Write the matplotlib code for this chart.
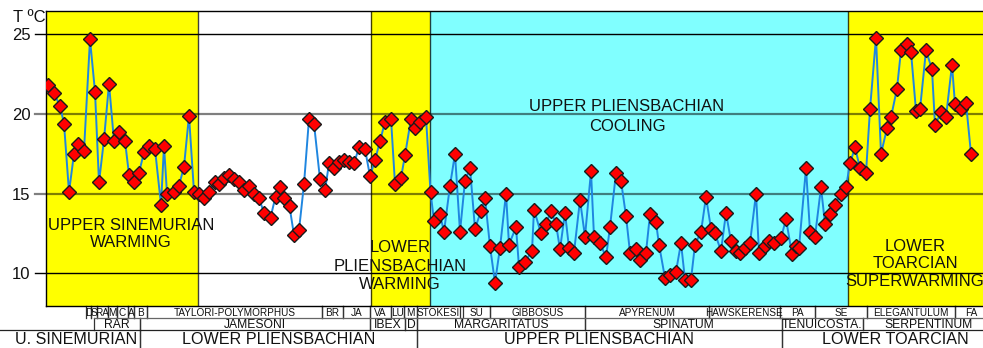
import matplotlib
matplotlib.use("Agg")
import matplotlib.pyplot as plt
from matplotlib.transforms import blended_transform_factory
from matplotlib.patches import Rectangle

plt.rcParams["font.family"] = ["Liberation Sans", "DejaVu Sans"]

# Stratigraphic position of each sample (arbitrary section units) and its temperature (deg C)
position = [
    2, 8, 14, 18, 23, 28, 32, 38, 44, 49, 53, 58, 63, 68, 73, 79, 83, 88, 93, 98,
    103, 109, 115, 118, 121, 128, 133, 138, 143, 148,
    153, 158, 163, 168.5, 173, 178, 183, 188, 193, 198, 203, 208, 213, 218, 224.5,
    229.5, 233.5, 238, 243.5, 248, 253, 258, 263, 268, 274, 279, 283, 288, 293, 298,
    303, 308, 313, 319,
    324, 329, 334, 339, 345, 349, 355, 359, 365, 369, 374, 380, 384.5,
    388, 394, 398, 404, 409, 414, 419, 424, 429, 435, 439, 444, 449, 454, 460, 463,
    470, 473, 479, 486, 488, 495, 500, 505, 510, 514, 519, 523, 528, 534, 539, 545,
    548, 554, 560, 564, 570, 575, 580, 584, 590, 594, 600, 604, 610, 613, 619, 624,
    630, 635, 639, 645, 649, 655, 660, 665, 669, 675, 680, 685, 690, 694, 699, 704,
    710, 713, 719, 723, 728, 735, 740, 746, 750, 753, 760, 764, 769, 775, 779, 784,
    789, 795, 800,
    804, 809, 814, 820, 824, 830, 835, 841, 845, 851, 855, 861, 865, 870, 874, 880,
    886, 889, 895, 900, 906, 909, 915, 920, 925,
]
temperature = [
    21.8, 21.3, 20.5, 19.4, 15.1, 17.5, 18.1, 17.7, 24.7, 21.4, 15.7, 18.4, 21.9, 18.3,
    18.9, 18.3, 16.2, 15.7, 16.3, 17.6, 18.0, 17.8, 14.3, 18.0, 15.0, 15.1, 15.5, 16.7,
    19.9, 15.1,
    15.0, 14.7, 15.1, 15.7, 15.6, 16.0, 16.2, 15.9, 15.7, 15.2, 15.5, 15.0, 14.7, 13.8,
    13.5, 14.8, 15.4, 14.7, 14.2, 12.4, 12.7, 15.6, 19.7, 19.4, 15.9, 15.2, 16.9, 16.6,
    17.0, 17.1, 17.0, 16.9, 17.9, 17.8,
    16.1, 17.1, 18.3, 19.5, 19.7, 15.6, 16.0, 17.4, 19.7, 19.1, 19.5, 19.8, 15.1,
    13.3, 13.7, 12.6, 15.5, 17.5, 12.6, 15.8, 16.6, 12.8, 13.9, 14.7, 11.7, 9.4, 11.6,
    15.0, 11.8, 12.9, 10.4, 10.7, 11.4, 14.0, 12.5, 13.1, 13.9, 13.1, 11.5, 13.8, 11.6,
    11.3, 14.6, 12.3, 16.4, 12.3, 11.9, 11.0, 12.9, 16.3, 15.8, 13.6, 11.3, 11.5, 10.8,
    11.3, 13.7, 13.2, 11.8, 9.7, 9.9, 10.1, 11.9, 9.6, 9.6, 11.8, 12.6, 14.8, 12.8,
    12.5, 11.4, 13.8, 12.0, 11.4, 11.3, 11.6, 11.9, 15.0, 11.3, 11.7, 12.0, 11.9, 12.2,
    13.4, 11.2, 11.7, 11.6, 16.6, 12.6, 12.3, 15.4, 13.1, 13.7, 14.3, 15.0, 15.4,
    16.9, 17.9, 16.6, 16.3, 20.3, 24.8, 17.5, 19.1, 19.8, 21.6, 24.0, 24.4, 23.9, 20.2,
    20.3, 24.0, 22.8, 19.3, 20.1, 19.8, 23.1, 20.6, 20.3, 20.7, 17.5,
]

# Climatic intervals shaded behind the curve
interval_edges = [0, 152, 325, 384, 802, 937]
interval_colors = ["#ffff00", "#ffffff", "#ffff00", "#80ffff", "#ffff00"]
interval_labels = [
    "UPPER SINEMURIAN\nWARMING",
    "LOWER\nPLIENSBACHIAN\nWARMING",
    "UPPER PLIENSBACHIAN\nCOOLING",
    "LOWER\nTOARCIAN\nSUPERWARMING",
]
label_x = [85, 354, 581, 869]
label_t = [12.45, 10.45, 19.85, 10.6]
label_spacing = [1.12, 1.27, 1.38, 1.2]

temperature_ticks = [10, 15, 20, 25]
tick_alpha = [1.0, 0.5, 0.5, 1.0]

# Biostratigraphy: (left edge, right edge, name)
subzones = [
    (40, 45, "D"), (45, 51, "S"), (51, 62, "RA"), (62, 71, "M"), (71, 82, "C"),
    (82, 88, "A"), (88, 101, "B"),
    (101, 276, "TAYLORI-POLYMORPHUS"), (276, 297, "BR"), (297, 324, "JA"),
    (324, 345, "VA"), (345, 358, "LU"), (358, 371, "M"), (371, 414, "STOKESI"),
    (417, 444, "SU"), (444, 539, "GIBBOSUS"), (539, 663, "APYRENUM"),
    (663, 734, "HAWSKERENSE"), (734, 769, "PA"), (769, 821, "SE"),
    (821, 909, "ELEGANTULUM"), (909, 941, "FA"),
]
zones = [
    (48, 94, "RAR"), (94, 324, "JAMESONI"), (324, 359, "IBEX"), (359, 371, "D"),
    (371, 539, "MARGARITATUS"), (539, 736, "SPINATUM"), (736, 817, "TENUICOSTA."),
    (817, 949, "SERPENTINUM"),
]
stages = [
    (-34, 94, "U. SINEMURIAN"), (94, 371, "LOWER PLIENSBACHIAN"),
    (371, 736, "UPPER PLIENSBACHIAN"), (736, 962, "LOWER TOARCIAN"),
]

W, H = 983, 348
fig = plt.figure(figsize=(W / 100, H / 100), dpi=100)
ax = fig.add_axes([46 / W, (H - 305.7) / H, 1 - 46 / W, (305.7 - 10.7) / H])
ax.set_xlim(0, 937)
ax.set_ylim(7.96, 26.49)

for left, right, color in zip(interval_edges[:-1], interval_edges[1:], interval_colors):
    ax.add_patch(Rectangle((left, 7.96), right - left, 26.49 - 7.96,
                           facecolor=color, edgecolor="none", zorder=0))
for edge in interval_edges[1:-1]:
    ax.axvline(edge, color="black", alpha=0.75, lw=1.0, zorder=1)

for level, a in zip(temperature_ticks, tick_alpha):
    ax.axhline(level, xmin=-11 / 937, xmax=1, color="black", alpha=a,
               lw=1.0 if a == 1.0 else 1.6, clip_on=False, zorder=2)

ax.plot(position, temperature, color="#1f86e0", lw=1.4, zorder=3)
ax.plot(position, temperature, linestyle="none", marker="D", ms=6.7,
        mfc="#ff0000", mec="#1a1a1a", mew=1.0, zorder=4)

for text, x, t, ls in zip(interval_labels, label_x, label_t, label_spacing):
    ax.text(x, t, text, ha="center", va="center", multialignment="center",
            fontsize=12, color="#111111", linespacing=ls, zorder=5)

ax.set_yticks(temperature_ticks)
ax.set_yticklabels([str(v) for v in temperature_ticks])
ax.tick_params(axis="y", length=0, pad=11, labelsize=12, colors="#111111")
ax.set_xticks([])
for side in ("left", "top", "bottom"):
    ax.spines[side].set_color("black")
    ax.spines[side].set_linewidth(1.0)
ax.spines["right"].set_visible(False)

fig.text(29 / W, (H - 18) / H, "T ºC", ha="center", va="center", fontsize=12,
         color="#111111")

# Biostratigraphic columns below the plot
tr = blended_transform_factory(ax.transData, fig.transFigure)


def fy(px):
    return (H - px) / H


rows = [
    (subzones, 305.7, 318.3, 7.2),
    (zones, 318.3, 330.0, 8.7),
    (stages, 330.0, 348.0, 11.6),
]
for cells, top, bottom, size in rows:
    for left, right, name in cells:
        ax.text((left + right) / 2, fy((top + bottom) / 2) - 0.002, name, transform=tr,
                ha="center", va="center", fontsize=size, color="#111111", clip_on=False)
        for edge in (left, right):
            if edge > -30 and edge < 945:
                ax.plot([edge, edge], [fy(top), fy(bottom)], transform=tr,
                        color="#333333", lw=0.9, clip_on=False)

ax.plot([48, 937], [fy(318.3), fy(318.3)], transform=tr, color="#666666", lw=0.9,
        clip_on=False)
ax.plot([-46, 937], [fy(330.0), fy(330.0)], transform=tr, color="#222222", lw=0.9,
        clip_on=False)

fig.savefig("out.png", dpi=100)
